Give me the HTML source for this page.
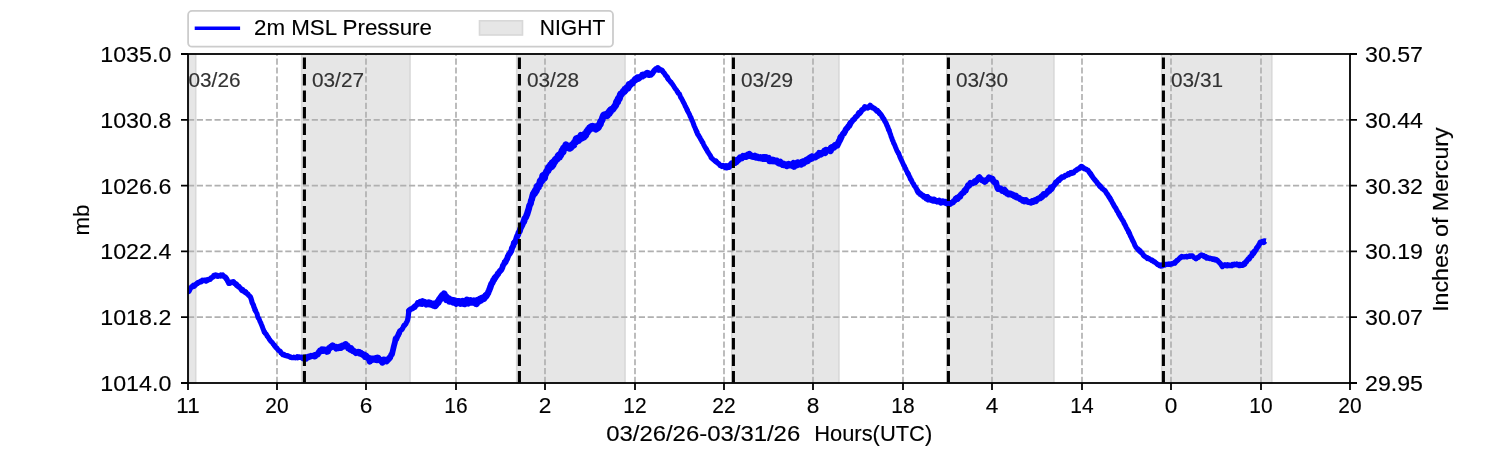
<!DOCTYPE html><html><head><meta charset="utf-8"><style>html,body{margin:0;padding:0;background:#fff;width:1500px;height:450px;overflow:hidden}svg{display:block;will-change:transform}text{font-family:"Liberation Sans", sans-serif;stroke-width:0.15px;stroke:#000}text.d{stroke:#333;fill:#333}</style></head><body>
<svg width="1500" height="450" viewBox="0 0 1500 450">
<rect width="1500" height="450" fill="#fff"/>
<rect x="188.80" y="54.00" width="6.90" height="329.00" fill="#e6e6e6" stroke="#d9d9d9" stroke-width="1.6"/>
<rect x="301.70" y="54.00" width="108.30" height="329.00" fill="#e6e6e6" stroke="#d9d9d9" stroke-width="1.6"/>
<rect x="516.70" y="54.00" width="108.30" height="329.00" fill="#e6e6e6" stroke="#d9d9d9" stroke-width="1.6"/>
<rect x="731.80" y="54.00" width="107.10" height="329.00" fill="#e6e6e6" stroke="#d9d9d9" stroke-width="1.6"/>
<rect x="946.80" y="54.00" width="107.10" height="329.00" fill="#e6e6e6" stroke="#d9d9d9" stroke-width="1.6"/>
<rect x="1161.70" y="54.00" width="110.10" height="329.00" fill="#e6e6e6" stroke="#d9d9d9" stroke-width="1.6"/>
<path d="M277.00 383.00V54.00" stroke="#b0b0b0" stroke-width="1.67" stroke-dasharray="6.17 2.67" fill="none"/>
<path d="M366.00 383.00V54.00" stroke="#b0b0b0" stroke-width="1.67" stroke-dasharray="6.17 2.67" fill="none"/>
<path d="M456.00 383.00V54.00" stroke="#b0b0b0" stroke-width="1.67" stroke-dasharray="6.17 2.67" fill="none"/>
<path d="M545.00 383.00V54.00" stroke="#b0b0b0" stroke-width="1.67" stroke-dasharray="6.17 2.67" fill="none"/>
<path d="M635.00 383.00V54.00" stroke="#b0b0b0" stroke-width="1.67" stroke-dasharray="6.17 2.67" fill="none"/>
<path d="M724.00 383.00V54.00" stroke="#b0b0b0" stroke-width="1.67" stroke-dasharray="6.17 2.67" fill="none"/>
<path d="M813.00 383.00V54.00" stroke="#b0b0b0" stroke-width="1.67" stroke-dasharray="6.17 2.67" fill="none"/>
<path d="M903.00 383.00V54.00" stroke="#b0b0b0" stroke-width="1.67" stroke-dasharray="6.17 2.67" fill="none"/>
<path d="M992.00 383.00V54.00" stroke="#b0b0b0" stroke-width="1.67" stroke-dasharray="6.17 2.67" fill="none"/>
<path d="M1082.00 383.00V54.00" stroke="#b0b0b0" stroke-width="1.67" stroke-dasharray="6.17 2.67" fill="none"/>
<path d="M1171.00 383.00V54.00" stroke="#b0b0b0" stroke-width="1.67" stroke-dasharray="6.17 2.67" fill="none"/>
<path d="M1261.00 383.00V54.00" stroke="#b0b0b0" stroke-width="1.67" stroke-dasharray="6.17 2.67" fill="none"/>
<path d="M188.00 317.20H1350.00" stroke="#b0b0b0" stroke-width="1.67" stroke-dasharray="6.17 2.67" fill="none"/>
<path d="M188.00 251.40H1350.00" stroke="#b0b0b0" stroke-width="1.67" stroke-dasharray="6.17 2.67" fill="none"/>
<path d="M188.00 185.60H1350.00" stroke="#b0b0b0" stroke-width="1.67" stroke-dasharray="6.17 2.67" fill="none"/>
<path d="M188.00 119.80H1350.00" stroke="#b0b0b0" stroke-width="1.67" stroke-dasharray="6.17 2.67" fill="none"/>
<defs><clipPath id="ax"><rect x="188.0" y="54.0" width="1162.0" height="329.0"/></clipPath></defs>
<g fill="none" stroke="#0000ff" stroke-linejoin="round" stroke-linecap="round" clip-path="url(#ax)">
<path d="M188.0 291.4 188.6 291.5 189.2 290.9 189.8 289.3 190.4 288.4 191.0 287.4 191.6 287.0 192.2 286.4 192.8 286.4 193.4 285.3 194.0 286.3 194.6 285.5 195.2 285.3 195.8 284.4 196.4 283.8 197.0 283.5 197.6 283.2" stroke-width="5.39"/>
<path d="M197.6 283.2 198.2 282.5 198.8 282.3 199.4 282.4 200.0 281.8 200.6 281.3 201.2 281.7 201.8 281.0 202.4 280.3 203.0 280.6 203.6 280.6 204.2 280.3 204.8 280.1 205.4 280.6 206.0 281.0 206.6 280.4 207.2 280.0" stroke-width="5.37"/>
<path d="M207.2 280.0 207.8 280.1 208.4 279.8 209.0 279.2 209.6 279.3 210.2 279.3 210.8 278.4 211.4 277.6 212.0 277.6 212.6 277.2 213.2 276.9 213.8 275.5 214.4 275.3 215.0 275.3 215.6 275.0 216.2 275.6 216.8 275.8" stroke-width="5.34"/>
<path d="M216.8 275.8 217.4 275.5 218.0 276.3 218.6 276.1 219.2 275.9 219.8 275.8 220.4 276.0 221.0 275.1 221.6 275.7 222.2 275.6 222.8 275.1 223.4 276.2 224.0 276.3 224.6 277.0 225.2 276.9 225.8 277.6 226.4 278.7" stroke-width="5.32"/>
<path d="M226.4 278.7 227.0 279.4 227.6 281.1 228.2 282.0 228.8 283.3 229.4 283.1 230.0 283.3 230.6 282.8 231.2 282.1 231.8 282.0 232.4 281.9 233.0 282.5 233.6 281.9 234.2 283.2 234.8 283.6 235.4 283.9 236.0 284.1" stroke-width="5.30"/>
<path d="M236.0 284.1 236.6 285.3 237.2 285.0 237.8 286.2 238.4 286.9 239.0 286.6 239.6 287.6 240.2 287.8 240.8 288.9 241.4 289.8 242.0 290.5 242.6 289.5 243.2 290.3 243.8 291.2 244.4 292.0 245.0 291.9 245.6 292.1" stroke-width="5.27"/>
<path d="M245.6 292.1 246.2 293.0 246.8 293.4 247.4 293.9 248.0 294.2 248.6 295.3 249.2 295.8 249.8 296.3 250.4 297.0 251.0 298.5 251.6 300.5 252.2 302.8 252.8 303.9 253.4 305.0 254.0 307.2 254.6 308.4 255.2 310.3" stroke-width="5.22"/>
<path d="M255.2 310.3 255.8 311.2 256.4 312.5 257.0 313.7 257.6 316.0 258.2 317.9 258.8 318.4 259.4 319.7 260.0 321.5 260.6 322.5 261.2 324.0 261.8 325.4 262.4 327.0 263.0 328.8 263.6 330.1 264.2 331.9 264.8 332.5" stroke-width="5.02"/>
<path d="M264.8 332.5 265.4 333.6 266.0 333.8 266.6 334.8 267.2 336.3 267.8 336.6 268.4 337.7 269.0 338.6 269.6 339.7 270.2 340.4 270.8 341.2 271.4 341.7 272.0 342.3 272.6 343.1 273.2 344.0 273.8 344.6 274.4 345.4" stroke-width="5.04"/>
<path d="M274.4 345.4 275.0 346.2 275.6 347.2 276.2 347.7 276.8 347.9 277.4 349.0 278.0 349.7 278.6 350.5 279.2 350.8 279.8 351.0 280.4 351.5 281.0 352.9 281.6 353.1 282.2 354.0 282.8 354.6 283.4 354.1 284.0 354.7" stroke-width="5.15"/>
<path d="M284.0 354.7 284.6 355.1 285.2 355.3 285.8 355.6 286.4 355.7 287.0 356.0 287.6 355.6 288.2 356.2 288.8 356.2 289.4 356.7 290.0 356.7 290.6 357.3 291.2 357.5 291.8 357.6 292.4 357.7 293.0 357.5 293.6 357.4" stroke-width="5.27"/>
<path d="M293.6 357.4 294.2 357.5 294.8 357.5 295.4 357.7 296.0 357.5 296.6 357.6 297.2 356.9 297.8 357.7 298.4 357.1 299.0 357.0 299.6 357.1 300.2 357.1 300.8 357.5 301.4 357.3 302.0 357.2 302.6 357.4 303.2 358.4" stroke-width="5.40"/>
<path d="M303.2 358.4 303.8 358.0 304.4 357.6 305.0 358.2 305.6 357.6 306.2 358.8 306.8 357.1 307.4 357.8 308.0 357.6 308.6 356.4 309.2 357.0 309.8 356.9 310.4 356.3 311.0 355.8 311.6 356.2 312.2 355.8 312.8 355.8" stroke-width="5.76"/>
<path d="M312.8 355.8 313.4 355.9 314.0 356.3 314.6 355.3 315.2 356.2 315.8 355.4 316.4 354.5 317.0 354.4 317.6 354.5 318.2 353.6 318.8 352.1 319.4 352.2 320.0 350.6 320.6 350.8 321.2 350.8 321.8 349.4 322.4 350.8" stroke-width="6.18"/>
<path d="M322.4 350.8 323.0 349.9 323.6 350.2 324.2 349.6 324.8 349.6 325.4 350.0 326.0 351.0 326.6 351.6 327.2 350.6 327.8 351.5 328.4 349.8 329.0 348.2 329.6 348.4 330.2 348.0 330.8 346.9 331.4 346.6 332.0 346.4" stroke-width="6.30"/>
<path d="M332.0 346.4 332.6 345.5 333.2 345.8 333.8 346.7 334.4 346.8 335.0 346.8 335.6 347.7 336.2 348.4 336.8 347.1 337.4 347.9 338.0 348.2 338.6 347.9 339.2 347.9 339.8 346.8 340.4 347.2 341.0 347.7 341.6 346.8" stroke-width="6.30"/>
<path d="M341.6 346.8 342.2 345.8 342.8 346.2 343.4 346.4 344.0 345.8 344.6 344.8 345.2 345.9 345.8 344.2 346.4 345.8 347.0 346.1 347.6 346.0 348.2 348.3 348.8 348.1 349.4 347.8 350.0 349.4 350.6 349.2 351.2 348.7" stroke-width="6.30"/>
<path d="M351.2 348.7 351.8 349.4 352.4 350.5 353.0 351.0 353.6 351.1 354.2 351.3 354.8 351.9 355.4 351.9 356.0 352.9 356.6 352.4 357.2 352.6 357.8 352.7 358.4 351.9 359.0 352.1 359.6 353.3 360.2 353.0 360.8 353.1" stroke-width="6.30"/>
<path d="M360.8 353.1 361.4 354.0 362.0 353.9 362.6 354.8 363.2 354.8 363.8 355.5 364.4 354.9 365.0 356.8 365.6 356.2 366.2 355.8 366.8 357.1 367.4 357.6 368.0 358.2 368.6 357.8 369.2 359.0 369.8 361.5 370.4 358.9" stroke-width="6.30"/>
<path d="M370.4 358.9 371.0 360.2 371.6 359.7 372.2 359.8 372.8 358.7 373.4 358.6 374.0 359.4 374.6 359.0 375.2 359.6 375.8 358.3 376.4 358.5 377.0 360.1 377.6 357.8 378.2 357.9 378.8 358.9 379.4 359.2 380.0 360.2" stroke-width="6.30"/>
<path d="M380.0 360.2 380.6 360.1 381.2 360.1 381.8 361.0 382.4 362.6 383.0 362.0 383.6 359.6 384.2 360.9 384.8 360.3 385.4 360.9 386.0 360.2 386.6 361.3 387.2 360.4 387.8 360.1 388.4 359.2 389.0 358.7 389.6 357.9" stroke-width="6.30"/>
<path d="M389.6 357.9 390.2 357.3 390.8 355.9 391.4 354.4 392.0 354.3 392.6 351.6 393.2 349.1 393.8 346.5 394.4 344.3 395.0 342.0 395.6 338.6 396.2 339.3 396.8 337.9 397.4 336.4 398.0 335.5 398.6 334.1 399.2 332.9" stroke-width="5.77"/>
<path d="M399.2 332.9 399.8 330.8 400.4 330.5 401.0 330.1 401.6 329.7 402.2 329.0 402.8 328.1 403.4 326.6 404.0 325.5 404.6 325.6 405.2 324.5 405.8 323.9 406.4 322.5 407.0 321.5 407.6 320.0 408.2 316.7 408.8 310.9" stroke-width="5.24"/>
<path d="M408.8 310.9 409.4 310.0 410.0 309.7 410.6 309.2 411.2 309.0 411.8 308.6 412.4 308.6 413.0 308.2 413.6 307.3 414.2 306.7 414.8 307.1 415.4 305.7 416.0 305.6 416.6 305.0 417.2 303.9 417.8 303.4 418.4 303.0" stroke-width="5.56"/>
<path d="M418.4 303.0 419.0 303.0 419.6 303.3 420.2 302.2 420.8 302.6 421.4 302.7 422.0 303.7 422.6 301.3 423.2 302.8 423.8 302.0 424.4 302.8 425.0 302.4 425.6 303.4 426.2 304.3 426.8 303.4 427.4 303.8 428.0 303.6" stroke-width="6.50"/>
<path d="M428.0 303.6 428.6 303.0 429.2 303.9 429.8 303.5 430.4 303.3 431.0 303.8 431.6 304.0 432.2 304.7 432.8 304.1 433.4 304.0 434.0 305.5 434.6 305.5 435.2 305.8 435.8 305.1 436.4 304.0 437.0 303.1 437.6 302.4" stroke-width="6.90"/>
<path d="M437.6 302.4 438.2 302.4 438.8 301.2 439.4 299.3 440.0 299.5 440.6 297.8 441.2 298.2 441.8 296.3 442.4 295.3 443.0 295.8 443.6 295.1 444.2 293.8 444.8 296.4 445.4 298.3 446.0 296.6 446.6 299.7 447.2 298.4" stroke-width="6.90"/>
<path d="M447.2 298.4 447.8 298.9 448.4 299.4 449.0 299.0 449.6 301.3 450.2 300.8 450.8 300.5 451.4 300.9 452.0 300.3 452.6 301.1 453.2 302.2 453.8 300.6 454.4 301.4 455.0 302.2 455.6 303.0 456.2 303.3 456.8 301.8" stroke-width="6.90"/>
<path d="M456.8 301.8 457.4 301.5 458.0 302.3 458.6 301.5 459.2 301.4 459.8 302.5 460.4 303.4 461.0 302.6 461.6 302.4 462.2 303.0 462.8 301.3 463.4 302.4 464.0 301.6 464.6 303.8 465.2 302.4 465.8 302.0 466.4 301.6" stroke-width="6.90"/>
<path d="M466.4 301.6 467.0 300.0 467.6 302.4 468.2 303.1 468.8 301.4 469.4 302.4 470.0 302.3 470.6 300.5 471.2 302.2 471.8 301.9 472.4 301.2 473.0 301.2 473.6 302.2 474.2 300.9 474.8 302.3 475.4 303.2 476.0 301.9" stroke-width="6.90"/>
<path d="M476.0 301.9 476.6 303.7 477.2 302.0 477.8 300.2 478.4 301.2 479.0 300.3 479.6 300.9 480.2 299.0 480.8 300.4 481.4 298.7 482.0 298.9 482.6 297.9 483.2 297.8 483.8 298.7 484.4 297.5 485.0 296.9 485.6 295.8" stroke-width="6.90"/>
<path d="M485.6 295.8 486.2 296.3 486.8 295.2 487.4 293.7 488.0 293.3 488.6 291.4 489.2 290.2 489.8 288.6 490.4 287.0 491.0 285.2 491.6 283.6 492.2 283.1 492.8 281.7 493.4 280.3 494.0 279.9 494.6 278.4 495.2 277.5" stroke-width="6.43"/>
<path d="M495.2 277.5 495.8 277.0 496.4 276.0 497.0 275.5 497.6 273.7 498.2 274.1 498.8 272.5 499.4 272.0 500.0 270.6 500.6 270.6 501.2 270.0 501.8 268.9 502.4 267.5 503.0 265.3 503.6 264.6 504.2 263.7 504.8 262.3" stroke-width="5.80"/>
<path d="M504.8 262.3 505.4 262.3 506.0 260.9 506.6 259.5 507.2 258.7 507.8 256.6 508.4 255.6 509.0 254.3 509.6 253.9 510.2 252.8 510.8 251.7 511.4 250.8 512.0 248.0 512.6 247.0 513.2 245.9 513.8 243.6 514.4 242.6" stroke-width="5.99"/>
<path d="M514.4 242.6 515.0 242.0 515.6 240.8 516.2 239.5 516.8 237.3 517.4 235.8 518.0 235.0 518.6 232.8 519.2 231.9 519.8 231.1 520.4 228.7 521.0 227.4 521.6 226.3 522.2 225.2 522.8 223.6 523.4 222.2 524.0 221.3" stroke-width="6.18"/>
<path d="M524.0 221.3 524.6 218.7 525.2 218.0 525.8 217.4 526.4 215.8 527.0 214.4 527.6 212.5 528.2 210.6 528.8 208.6 529.4 205.9 530.0 204.6 530.6 203.6 531.2 200.5 531.8 199.3 532.4 196.6 533.0 194.5 533.6 194.2" stroke-width="6.53"/>
<path d="M533.6 194.2 534.2 192.6 534.8 192.8 535.4 190.4 536.0 191.2 536.6 189.7 537.2 186.5 537.8 187.6 538.4 187.1 539.0 184.5 539.6 184.6 540.2 181.4 540.8 182.0 541.4 179.7 542.0 180.5 542.6 177.5 543.2 175.8" stroke-width="7.07"/>
<path d="M543.2 175.8 543.8 177.3 544.4 177.9 545.0 174.3 545.6 174.1 546.2 172.5 546.8 171.3 547.4 170.7 548.0 170.5 548.6 167.6 549.2 168.3 549.8 167.3 550.4 165.2 551.0 166.7 551.6 166.5 552.2 163.2 552.8 164.6" stroke-width="7.17"/>
<path d="M552.8 164.6 553.4 162.4 554.0 161.5 554.6 161.8 555.2 160.0 555.8 159.2 556.4 159.5 557.0 159.0 557.6 158.1 558.2 156.1 558.8 155.2 559.4 157.1 560.0 155.2 560.6 155.1 561.2 153.1 561.8 152.5 562.4 150.7" stroke-width="7.14"/>
<path d="M562.4 150.7 563.0 151.8 563.6 148.2 564.2 148.0 564.8 147.0 565.4 146.9 566.0 144.8 566.6 146.1 567.2 146.6 567.8 147.4 568.4 147.6 569.0 147.4 569.6 148.2 570.2 147.9 570.8 147.6 571.4 146.2 572.0 145.1" stroke-width="7.10"/>
<path d="M572.0 145.1 572.6 144.6 573.2 144.2 573.8 145.0 574.4 142.3 575.0 142.2 575.6 142.1 576.2 138.9 576.8 138.5 577.4 138.3 578.0 138.6 578.6 140.3 579.2 138.5 579.8 138.8 580.4 137.3 581.0 135.5 581.6 135.7" stroke-width="7.07"/>
<path d="M581.6 135.7 582.2 137.8 582.8 136.9 583.4 135.6 584.0 137.0 584.6 134.3 585.2 135.6 585.8 134.9 586.4 132.6 587.0 131.3 587.6 131.9 588.2 129.7 588.8 130.3 589.4 128.2 590.0 129.0 590.6 127.8 591.2 127.0" stroke-width="7.04"/>
<path d="M591.2 127.0 591.8 126.9 592.4 127.9 593.0 126.5 593.6 127.7 594.2 127.6 594.8 128.4 595.4 126.8 596.0 129.1 596.6 127.4 597.2 126.7 597.8 127.9 598.4 127.4 599.0 125.6 599.6 124.2 600.2 124.4 600.8 121.8" stroke-width="7.00"/>
<path d="M600.8 121.8 601.4 120.6 602.0 120.3 602.6 117.8 603.2 116.3 603.8 115.0 604.4 114.8 605.0 115.5 605.6 115.5 606.2 114.2 606.8 114.2 607.4 115.6 608.0 113.6 608.6 112.5 609.2 113.5 609.8 111.5 610.4 110.3" stroke-width="6.97"/>
<path d="M610.4 110.3 611.0 111.0 611.6 109.2 612.2 109.0 612.8 109.2 613.4 108.5 614.0 107.3 614.6 106.7 615.2 105.4 615.8 105.3 616.4 102.5 617.0 101.2 617.6 102.0 618.2 98.9 618.8 99.4 619.4 98.4 620.0 96.1" stroke-width="6.93"/>
<path d="M620.0 96.1 620.6 94.1 621.2 94.3 621.8 93.7 622.4 92.9 623.0 91.6 623.6 92.0 624.2 91.6 624.8 89.3 625.4 90.4 626.0 88.8 626.6 87.8 627.2 87.4 627.8 88.4 628.4 87.2 629.0 84.6 629.6 85.3" stroke-width="6.86"/>
<path d="M629.6 85.3 630.2 84.6 630.8 84.2 631.4 83.4 632.0 82.3 632.6 83.3 633.2 81.6 633.8 81.2 634.4 80.3 635.0 79.5 635.6 80.0 636.2 79.2 636.8 78.1 637.4 77.5 638.0 77.5 638.6 78.5 639.2 77.6" stroke-width="6.52"/>
<path d="M639.2 77.6 639.8 77.5 640.4 76.8 641.0 76.6 641.6 76.5 642.2 74.8 642.8 76.3 643.4 74.6 644.0 74.5 644.6 75.2 645.2 74.4 645.8 74.0 646.4 73.4 647.0 72.9 647.6 74.0 648.2 74.5 648.8 73.6" stroke-width="6.14"/>
<path d="M648.8 73.6 649.4 75.0 650.0 73.8 650.6 74.4 651.2 74.7 651.8 73.8 652.4 73.5 653.0 72.2 653.6 71.6 654.2 70.5 654.8 70.2 655.4 69.6 656.0 68.9 656.6 69.1 657.2 68.2 657.8 67.9 658.4 69.9" stroke-width="5.73"/>
<path d="M658.4 69.9 659.0 68.9 659.6 69.0 660.2 70.0 660.8 70.3 661.4 69.9 662.0 70.1 662.6 70.8 663.2 72.2 663.8 72.6 664.4 73.4 665.0 74.4 665.6 75.5 666.2 75.7 666.8 76.8 667.4 77.2 668.0 78.8" stroke-width="5.13"/>
<path d="M668.0 78.8 668.6 79.7 669.2 80.3 669.8 80.9 670.4 81.9 671.0 82.0 671.6 83.5 672.2 83.8 672.8 84.7 673.4 85.7 674.0 86.6 674.6 87.7 675.2 88.6 675.8 89.3 676.4 89.9 677.0 91.2 677.6 91.8" stroke-width="4.97"/>
<path d="M677.6 91.8 678.2 93.2 678.8 93.5 679.4 93.9 680.0 95.4 680.6 97.3 681.2 98.0 681.8 98.9 682.4 100.3 683.0 101.4 683.6 102.7 684.2 103.6 684.8 105.0 685.4 106.4 686.0 107.4 686.6 108.5 687.2 109.9" stroke-width="5.00"/>
<path d="M687.2 109.9 687.8 111.3 688.4 112.5 689.0 113.5 689.6 114.7 690.2 116.5 690.8 117.2 691.4 118.9 692.0 120.5 692.6 121.5 693.2 123.2 693.8 124.9 694.4 126.5 695.0 127.7 695.6 129.3 696.2 130.7 696.8 131.8" stroke-width="5.02"/>
<path d="M696.8 131.8 697.4 133.9 698.0 134.8 698.6 135.3 699.2 136.7 699.8 137.3 700.4 138.6 701.0 139.8 701.6 140.5 702.2 142.3 702.8 142.5 703.4 144.1 704.0 145.2 704.6 146.5 705.2 147.5 705.8 148.3 706.4 149.4" stroke-width="5.05"/>
<path d="M706.4 149.4 707.0 150.3 707.6 151.6 708.2 152.2 708.8 153.5 709.4 154.3 710.0 155.3 710.6 156.1 711.2 157.8 711.8 157.9 712.4 158.9 713.0 159.4 713.6 159.9 714.2 160.4 714.8 160.9 715.4 161.5 716.0 161.2" stroke-width="5.08"/>
<path d="M716.0 161.2 716.6 162.2 717.2 162.4 717.8 163.3 718.4 163.3 719.0 163.9 719.6 164.7 720.2 165.6 720.8 165.8 721.4 165.9 722.0 166.4 722.6 165.6 723.2 165.4 723.8 165.9 724.4 166.0 725.0 166.7 725.6 167.3" stroke-width="5.23"/>
<path d="M725.6 167.3 726.2 166.0 726.8 167.5 727.4 167.2 728.0 167.1 728.6 166.3 729.2 166.8 729.8 165.2 730.4 164.7 731.0 164.6 731.6 163.4 732.2 164.1 732.8 163.4 733.4 163.3 734.0 163.0 734.6 161.7 735.2 162.7" stroke-width="5.93"/>
<path d="M735.2 162.7 735.8 161.2 736.4 162.0 737.0 160.1 737.6 160.7 738.2 159.8 738.8 159.8 739.4 158.7 740.0 157.5 740.6 157.6 741.2 158.3 741.8 158.3 742.4 156.8 743.0 156.1 743.6 156.5 744.2 156.8 744.8 156.2" stroke-width="6.31"/>
<path d="M744.8 156.2 745.4 155.9 746.0 156.8 746.6 156.5 747.2 156.3 747.8 154.8 748.4 155.4 749.0 155.0 749.6 154.2 750.2 155.7 750.8 155.4 751.4 155.4 752.0 156.5 752.6 156.3 753.2 156.5 753.8 156.9 754.4 156.8" stroke-width="6.34"/>
<path d="M754.4 156.8 755.0 155.9 755.6 156.5 756.2 157.4 756.8 156.5 757.4 157.2 758.0 157.6 758.6 158.1 759.2 158.0 759.8 157.9 760.4 157.3 761.0 158.2 761.6 157.9 762.2 157.6 762.8 158.7 763.4 158.2 764.0 157.4" stroke-width="6.37"/>
<path d="M764.0 157.4 764.6 158.6 765.2 157.9 765.8 158.6 766.4 157.3 767.0 158.7 767.6 158.3 768.2 158.5 768.8 158.2 769.4 160.9 770.0 159.8 770.6 160.0 771.2 160.9 771.8 160.3 772.4 160.9 773.0 159.8 773.6 161.0" stroke-width="6.40"/>
<path d="M773.6 161.0 774.2 160.7 774.8 161.3 775.4 161.3 776.0 160.6 776.6 160.7 777.2 161.4 777.8 162.8 778.4 163.0 779.0 163.3 779.6 161.9 780.2 161.8 780.8 163.1 781.4 163.7 782.0 164.1 782.6 164.9 783.2 164.9" stroke-width="6.42"/>
<path d="M783.2 164.9 783.8 164.0 784.4 164.4 785.0 164.9 785.6 164.7 786.2 164.7 786.8 166.0 787.4 164.5 788.0 164.6 788.6 164.1 789.2 164.6 789.8 165.2 790.4 165.3 791.0 165.0 791.6 165.5 792.2 165.2 792.8 164.0" stroke-width="6.45"/>
<path d="M792.8 164.0 793.4 163.3 794.0 166.6 794.6 165.7 795.2 164.7 795.8 163.7 796.4 163.9 797.0 165.1 797.6 162.5 798.2 163.6 798.8 164.2 799.4 163.6 800.0 163.6 800.6 163.0 801.2 164.5 801.8 162.3 802.4 161.9" stroke-width="6.48"/>
<path d="M802.4 161.9 803.0 162.7 803.6 163.1 804.2 161.7 804.8 162.3 805.4 160.8 806.0 160.2 806.6 161.3 807.2 161.0 807.8 160.8 808.4 159.1 809.0 158.5 809.6 158.0 810.2 158.6 810.8 158.9 811.4 158.5 812.0 156.8" stroke-width="6.51"/>
<path d="M812.0 156.8 812.6 157.7 813.2 157.6 813.8 157.1 814.4 156.8 815.0 156.6 815.6 157.0 816.2 156.2 816.8 155.9 817.4 155.1 818.0 155.5 818.6 154.6 819.2 153.2 819.8 154.5 820.4 153.7 821.0 154.2 821.6 153.2" stroke-width="6.53"/>
<path d="M821.6 153.2 822.2 153.1 822.8 152.9 823.4 152.8 824.0 152.3 824.6 150.8 825.2 152.8 825.8 150.0 826.4 150.3 827.0 150.6 827.6 150.3 828.2 150.3 828.8 150.1 829.4 150.4 830.0 149.8 830.6 150.9 831.2 147.9" stroke-width="6.56"/>
<path d="M831.2 147.9 831.8 148.2 832.4 147.4 833.0 146.9 833.6 146.8 834.2 147.2 834.8 145.4 835.4 145.0 836.0 145.4 836.6 144.7 837.2 145.3 837.8 144.1 838.4 142.9 839.0 141.4 839.6 140.5 840.2 139.3 840.8 137.3" stroke-width="6.58"/>
<path d="M840.8 137.3 841.4 137.1 842.0 135.8 842.6 134.6 843.2 133.6 843.8 133.6 844.4 132.3 845.0 131.6 845.6 129.9 846.2 129.0 846.8 128.4 847.4 127.9 848.0 126.9 848.6 126.0 849.2 125.8 849.8 124.6 850.4 123.2" stroke-width="6.10"/>
<path d="M850.4 123.2 851.0 122.6 851.6 121.6 852.2 121.4 852.8 120.1 853.4 119.8 854.0 119.5 854.6 118.6 855.2 117.6 855.8 117.0 856.4 116.5 857.0 115.9 857.6 115.5 858.2 114.3 858.8 113.0 859.4 113.6 860.0 112.6" stroke-width="5.65"/>
<path d="M860.0 112.6 860.6 112.1 861.2 111.3 861.8 110.1 862.4 109.8 863.0 109.2 863.6 109.1 864.2 108.3 864.8 106.8 865.4 107.6 866.0 107.7 866.6 107.7 867.2 107.3 867.8 107.8 868.4 107.2 869.0 107.1 869.6 106.6" stroke-width="5.55"/>
<path d="M869.6 106.6 870.2 105.4 870.8 106.8 871.4 107.0 872.0 107.0 872.6 107.7 873.2 108.0 873.8 108.2 874.4 108.7 875.0 109.0 875.6 109.6 876.2 110.0 876.8 111.0 877.4 110.6 878.0 111.7 878.6 111.9 879.2 112.8" stroke-width="5.46"/>
<path d="M879.2 112.8 879.8 113.8 880.4 114.1 881.0 114.6 881.6 115.5 882.2 117.0 882.8 117.3 883.4 118.9 884.0 119.2 884.6 120.6 885.2 121.9 885.8 122.6 886.4 124.0 887.0 125.6 887.6 126.6 888.2 128.5 888.8 129.9" stroke-width="5.22"/>
<path d="M888.8 129.9 889.4 131.2 890.0 133.2 890.6 134.6 891.2 136.9 891.8 138.0 892.4 140.2 893.0 141.0 893.6 143.1 894.2 144.0 894.8 145.3 895.4 146.9 896.0 148.3 896.6 149.8 897.2 151.3 897.8 152.1 898.4 153.2" stroke-width="4.98"/>
<path d="M898.4 153.2 899.0 154.1 899.6 156.1 900.2 157.7 900.8 158.9 901.4 160.2 902.0 161.4 902.6 162.7 903.2 164.0 903.8 165.4 904.4 166.0 905.0 167.9 905.6 168.5 906.2 170.2 906.8 171.3 907.4 172.6 908.0 173.6" stroke-width="5.03"/>
<path d="M908.0 173.6 908.6 174.7 909.2 176.1 909.8 177.0 910.4 179.1 911.0 179.5 911.6 180.7 912.2 182.1 912.8 183.0 913.4 183.8 914.0 185.3 914.6 186.3 915.2 186.6 915.8 187.9 916.4 188.5 917.0 189.9 917.6 191.0" stroke-width="5.12"/>
<path d="M917.6 191.0 918.2 192.1 918.8 192.8 919.4 192.8 920.0 194.0 920.6 193.8 921.2 194.5 921.8 195.1 922.4 195.2 923.0 195.5 923.6 196.7 924.2 196.4 924.8 197.0 925.4 197.4 926.0 198.5 926.6 197.9 927.2 197.0" stroke-width="5.74"/>
<path d="M927.2 197.0 927.8 198.8 928.4 199.6 929.0 199.6 929.6 198.7 930.2 199.3 930.8 199.8 931.4 200.1 932.0 199.9 932.6 199.6 933.2 200.7 933.8 200.6 934.4 199.7 935.0 200.5 935.6 201.0 936.2 200.8 936.8 201.2" stroke-width="6.00"/>
<path d="M936.8 201.2 937.4 201.5 938.0 201.6 938.6 201.4 939.2 200.8 939.8 201.9 940.4 202.3 941.0 202.7 941.6 201.6 942.2 201.4 942.8 202.2 943.4 202.3 944.0 201.8 944.6 202.1 945.2 201.8 945.8 203.0 946.4 202.8" stroke-width="6.00"/>
<path d="M946.4 202.8 947.0 203.4 947.6 203.8 948.2 204.1 948.8 203.7 949.4 204.1 950.0 204.1 950.6 203.4 951.2 202.8 951.8 202.8 952.4 202.5 953.0 202.2 953.6 201.1 954.2 201.0 954.8 200.4 955.4 199.4 956.0 198.6" stroke-width="6.00"/>
<path d="M956.0 198.6 956.6 198.7 957.2 197.7 957.8 198.8 958.4 197.2 959.0 196.7 959.6 196.1 960.2 196.7 960.8 194.6 961.4 194.3 962.0 193.4 962.6 193.1 963.2 192.6 963.8 192.6 964.4 190.6 965.0 190.4 965.6 190.4" stroke-width="6.00"/>
<path d="M965.6 190.4 966.2 188.6 966.8 188.0 967.4 186.9 968.0 185.3 968.6 185.9 969.2 185.8 969.8 184.1 970.4 182.9 971.0 183.5 971.6 183.3 972.2 183.5 972.8 183.3 973.4 182.5 974.0 182.6 974.6 181.3 975.2 182.1" stroke-width="6.00"/>
<path d="M975.2 182.1 975.8 180.9 976.4 180.8 977.0 180.4 977.6 179.0 978.2 178.4 978.8 177.6 979.4 177.2 980.0 178.6 980.6 179.0 981.2 179.0 981.8 180.2 982.4 180.2 983.0 180.9 983.6 180.5 984.2 180.5 984.8 181.6" stroke-width="6.00"/>
<path d="M984.8 181.6 985.4 181.3 986.0 180.7 986.6 179.9 987.2 179.5 987.8 179.1 988.4 178.4 989.0 177.3 989.6 178.7 990.2 177.9 990.8 178.8 991.4 178.9 992.0 179.4 992.6 178.9 993.2 181.1 993.8 181.5 994.4 182.0" stroke-width="6.00"/>
<path d="M994.4 182.0 995.0 182.9 995.6 182.5 996.2 182.7 996.8 185.9 997.4 187.9 998.0 188.9 998.6 188.2 999.2 188.7 999.8 189.2 1000.4 188.3 1001.0 189.1 1001.6 189.4 1002.2 190.8 1002.8 189.8 1003.4 191.0 1004.0 190.5" stroke-width="6.00"/>
<path d="M1004.0 190.5 1004.6 189.8 1005.2 192.4 1005.8 191.2 1006.4 192.5 1007.0 193.7 1007.6 193.0 1008.2 193.1 1008.8 194.5 1009.4 194.2 1010.0 193.6 1010.6 193.6 1011.2 194.0 1011.8 194.9 1012.4 194.4 1013.0 194.9 1013.6 195.7" stroke-width="6.00"/>
<path d="M1013.6 195.7 1014.2 195.9 1014.8 196.5 1015.4 196.8 1016.0 195.6 1016.6 197.6 1017.2 197.5 1017.8 197.8 1018.4 197.6 1019.0 197.8 1019.6 198.5 1020.2 199.3 1020.8 199.1 1021.4 199.4 1022.0 199.8 1022.6 200.6 1023.2 200.2" stroke-width="6.00"/>
<path d="M1023.2 200.2 1023.8 200.5 1024.4 201.2 1025.0 200.4 1025.6 201.0 1026.2 200.3 1026.8 201.4 1027.4 201.5 1028.0 202.0 1028.6 202.0 1029.2 201.9 1029.8 202.2 1030.4 202.0 1031.0 202.6 1031.6 202.4 1032.2 201.2 1032.8 201.9" stroke-width="6.00"/>
<path d="M1032.8 201.9 1033.4 201.0 1034.0 201.4 1034.6 200.8 1035.2 200.1 1035.8 201.2 1036.4 200.5 1037.0 199.4 1037.6 198.8 1038.2 199.0 1038.8 198.3 1039.4 198.1 1040.0 198.3 1040.6 198.2 1041.2 196.6 1041.8 197.1 1042.4 196.4" stroke-width="6.00"/>
<path d="M1042.4 196.4 1043.0 195.2 1043.6 194.0 1044.2 194.7 1044.8 194.1 1045.4 194.6 1046.0 193.7 1046.6 193.0 1047.2 193.0 1047.8 191.0 1048.4 191.2 1049.0 190.3 1049.6 190.9 1050.2 189.8 1050.8 187.6 1051.4 189.2 1052.0 187.5" stroke-width="5.98"/>
<path d="M1052.0 187.5 1052.6 187.3 1053.2 186.0 1053.8 185.6 1054.4 185.0 1055.0 183.9 1055.6 182.5 1056.2 183.0 1056.8 182.0 1057.4 181.1 1058.0 180.6 1058.6 179.6 1059.2 180.1 1059.8 179.0 1060.4 178.5 1061.0 178.2 1061.6 177.4" stroke-width="5.60"/>
<path d="M1061.6 177.4 1062.2 177.0 1062.8 177.2 1063.4 176.9 1064.0 177.0 1064.6 176.3 1065.2 175.4 1065.8 175.5 1066.4 175.4 1067.0 175.2 1067.6 174.7 1068.2 173.9 1068.8 174.5 1069.4 173.7 1070.0 173.8 1070.6 172.8 1071.2 173.3" stroke-width="5.37"/>
<path d="M1071.2 173.3 1071.8 172.6 1072.4 173.1 1073.0 173.1 1073.6 172.7 1074.2 171.6 1074.8 171.2 1075.4 170.6 1076.0 170.6 1076.6 170.0 1077.2 169.4 1077.8 169.1 1078.4 168.9 1079.0 168.6 1079.6 168.5 1080.2 167.5 1080.8 167.2" stroke-width="5.33"/>
<path d="M1080.8 167.2 1081.4 166.4 1082.0 166.7 1082.6 167.3 1083.2 167.5 1083.8 168.2 1084.4 168.8 1085.0 168.7 1085.6 169.1 1086.2 169.3 1086.8 169.7 1087.4 169.9 1088.0 170.4 1088.6 171.1 1089.2 172.1 1089.8 172.9 1090.4 173.6" stroke-width="5.29"/>
<path d="M1090.4 173.6 1091.0 174.4 1091.6 175.8 1092.2 176.1 1092.8 177.3 1093.4 178.1 1094.0 178.8 1094.6 179.6 1095.2 180.2 1095.8 181.1 1096.4 181.7 1097.0 182.3 1097.6 183.6 1098.2 183.9 1098.8 184.9 1099.4 185.3 1100.0 186.2" stroke-width="5.25"/>
<path d="M1100.0 186.2 1100.6 186.4 1101.2 187.2 1101.8 188.4 1102.4 188.5 1103.0 189.2 1103.6 189.5 1104.2 190.4 1104.8 190.4 1105.4 191.3 1106.0 192.2 1106.6 193.4 1107.2 193.9 1107.8 194.9 1108.4 195.9 1109.0 196.9 1109.6 197.6" stroke-width="5.21"/>
<path d="M1109.6 197.6 1110.2 198.6 1110.8 200.0 1111.4 200.5 1112.0 201.8 1112.6 203.0 1113.2 203.9 1113.8 205.3 1114.4 206.2 1115.0 207.3 1115.6 207.9 1116.2 209.0 1116.8 210.4 1117.4 211.4 1118.0 212.1 1118.6 213.4 1119.2 214.4" stroke-width="5.17"/>
<path d="M1119.2 214.4 1119.8 215.5 1120.4 216.9 1121.0 217.4 1121.6 218.8 1122.2 219.8 1122.8 220.6 1123.4 221.3 1124.0 223.1 1124.6 224.1 1125.2 225.2 1125.8 226.4 1126.4 227.8 1127.0 228.7 1127.6 230.1 1128.2 230.6 1128.8 232.3" stroke-width="5.13"/>
<path d="M1128.8 232.3 1129.4 233.2 1130.0 234.7 1130.6 236.3 1131.2 237.3 1131.8 238.6 1132.4 240.1 1133.0 241.1 1133.6 242.2 1134.2 243.5 1134.8 245.3 1135.4 246.2 1136.0 247.4 1136.6 247.9 1137.2 248.8 1137.8 248.8 1138.4 249.8" stroke-width="5.10"/>
<path d="M1138.4 249.8 1139.0 249.8 1139.6 251.3 1140.2 250.7 1140.8 252.3 1141.4 252.8 1142.0 252.8 1142.6 253.9 1143.2 255.1 1143.8 255.8 1144.4 255.8 1145.0 256.8 1145.6 257.0 1146.2 257.2 1146.8 257.6 1147.4 258.5 1148.0 258.2" stroke-width="5.10"/>
<path d="M1148.0 258.2 1148.6 258.4 1149.2 258.6 1149.8 259.3 1150.4 259.5 1151.0 259.5 1151.6 260.6 1152.2 260.1 1152.8 260.7 1153.4 261.2 1154.0 262.0 1154.6 261.7 1155.2 262.2 1155.8 263.0 1156.4 263.2 1157.0 263.9 1157.6 264.3" stroke-width="5.10"/>
<path d="M1157.6 264.3 1158.2 264.5 1158.8 265.0 1159.4 265.6 1160.0 265.9 1160.6 266.1 1161.2 264.8 1161.8 265.1 1162.4 265.8 1163.0 265.4 1163.6 264.8 1164.2 265.1 1164.8 265.2 1165.4 264.4 1166.0 264.6 1166.6 264.2 1167.2 264.2" stroke-width="5.10"/>
<path d="M1167.2 264.2 1167.8 264.2 1168.4 264.4 1169.0 263.8 1169.6 264.1 1170.2 264.4 1170.8 263.8 1171.4 263.6 1172.0 264.1 1172.6 263.7 1173.2 263.3 1173.8 263.1 1174.4 262.5 1175.0 263.3 1175.6 262.0 1176.2 261.7 1176.8 260.7" stroke-width="5.10"/>
<path d="M1176.8 260.7 1177.4 260.4 1178.0 260.3 1178.6 259.3 1179.2 258.8 1179.8 257.9 1180.4 257.9 1181.0 256.9 1181.6 256.4 1182.2 257.0 1182.8 256.6 1183.4 256.9 1184.0 256.8 1184.6 256.9 1185.2 256.8 1185.8 256.5 1186.4 256.4" stroke-width="5.10"/>
<path d="M1186.4 256.4 1187.0 257.0 1187.6 256.6 1188.2 256.6 1188.8 256.2 1189.4 255.7 1190.0 255.7 1190.6 256.4 1191.2 255.7 1191.8 255.8 1192.4 255.8 1193.0 256.6 1193.6 257.0 1194.2 257.6 1194.8 258.0 1195.4 258.2 1196.0 258.6" stroke-width="5.10"/>
<path d="M1196.0 258.6 1196.6 258.3 1197.2 258.0 1197.8 257.4 1198.4 257.5 1199.0 256.6 1199.6 256.1 1200.2 255.5 1200.8 255.5 1201.4 254.9 1202.0 255.0 1202.6 255.5 1203.2 256.2 1203.8 255.8 1204.4 256.9 1205.0 256.8 1205.6 256.7" stroke-width="5.11"/>
<path d="M1205.6 256.7 1206.2 257.3 1206.8 258.1 1207.4 257.5 1208.0 257.5 1208.6 258.2 1209.2 258.5 1209.8 258.6 1210.4 258.2 1211.0 258.5 1211.6 258.6 1212.2 258.9 1212.8 259.4 1213.4 258.9 1214.0 259.6 1214.6 259.2 1215.2 259.7" stroke-width="5.17"/>
<path d="M1215.2 259.7 1215.8 259.4 1216.4 259.7 1217.0 260.3 1217.6 260.4 1218.2 261.5 1218.8 261.7 1219.4 262.6 1220.0 263.2 1220.6 263.8 1221.2 264.7 1221.8 265.8 1222.4 266.6 1223.0 265.2 1223.6 265.6 1224.2 265.4 1224.8 265.1" stroke-width="5.24"/>
<path d="M1224.8 265.1 1225.4 265.5 1226.0 265.1 1226.6 265.3 1227.2 265.7 1227.8 264.7 1228.4 265.6 1229.0 265.7 1229.6 265.2 1230.2 265.7 1230.8 265.5 1231.4 265.1 1232.0 265.6 1232.6 264.6 1233.2 265.1 1233.8 264.7 1234.4 264.4" stroke-width="5.30"/>
<path d="M1234.4 264.4 1235.0 264.7 1235.6 264.4 1236.2 264.7 1236.8 264.1 1237.4 264.6 1238.0 264.6 1238.6 265.3 1239.2 264.6 1239.8 265.5 1240.4 264.6 1241.0 265.3 1241.6 265.2 1242.2 265.4 1242.8 265.2 1243.4 264.3 1244.0 263.7" stroke-width="5.37"/>
<path d="M1244.0 263.7 1244.6 264.2 1245.2 263.0 1245.8 261.9 1246.4 261.9 1247.0 260.6 1247.6 259.9 1248.2 259.0 1248.8 259.2 1249.4 258.8 1250.0 256.9 1250.6 256.5 1251.2 256.0 1251.8 255.8 1252.4 253.3 1253.0 253.6 1253.6 253.1" stroke-width="5.44"/>
<path d="M1253.6 253.1 1254.2 251.5 1254.8 251.4 1255.4 250.5 1256.0 249.8 1256.6 248.2 1257.2 247.7 1257.8 246.5 1258.4 246.0 1259.0 244.8 1259.6 243.7 1260.2 242.4 1260.8 242.7 1261.4 242.1 1262.0 242.1 1262.6 241.5 1263.2 241.4" stroke-width="5.50"/>
<path d="M1263.2 241.4 1263.8 242.3 1264.4 241.7 1265.0 241.0 1265.5 241.2" stroke-width="5.55" stroke-linecap="butt"/>
</g>
<path d="M304.40 382.50V54.00" stroke="#000" stroke-width="3.1" stroke-dasharray="11.5 5" fill="none"/>
<path d="M519.40 382.50V54.00" stroke="#000" stroke-width="3.1" stroke-dasharray="11.5 5" fill="none"/>
<path d="M733.40 382.50V54.00" stroke="#000" stroke-width="3.1" stroke-dasharray="11.5 5" fill="none"/>
<path d="M948.40 382.50V54.00" stroke="#000" stroke-width="3.1" stroke-dasharray="11.5 5" fill="none"/>
<path d="M1163.40 382.50V54.00" stroke="#000" stroke-width="3.1" stroke-dasharray="11.5 5" fill="none"/>
<rect x="188.00" y="54.00" width="1162.00" height="329.00" fill="none" stroke="#000" stroke-width="1.8"/>
<path d="M181.00 383.00H188.00 M1350.00 383.00H1357.00" stroke="#000" stroke-width="1.8"/>
<path d="M181.00 317.20H188.00 M1350.00 317.20H1357.00" stroke="#000" stroke-width="1.8"/>
<path d="M181.00 251.40H188.00 M1350.00 251.40H1357.00" stroke="#000" stroke-width="1.8"/>
<path d="M181.00 185.60H188.00 M1350.00 185.60H1357.00" stroke="#000" stroke-width="1.8"/>
<path d="M181.00 119.80H188.00 M1350.00 119.80H1357.00" stroke="#000" stroke-width="1.8"/>
<path d="M181.00 54.00H188.00 M1350.00 54.00H1357.00" stroke="#000" stroke-width="1.8"/>
<path d="M188.00 383.00V390.00" stroke="#000" stroke-width="1.8"/>
<path d="M277.00 383.00V390.00" stroke="#000" stroke-width="1.8"/>
<path d="M366.00 383.00V390.00" stroke="#000" stroke-width="1.8"/>
<path d="M456.00 383.00V390.00" stroke="#000" stroke-width="1.8"/>
<path d="M545.00 383.00V390.00" stroke="#000" stroke-width="1.8"/>
<path d="M635.00 383.00V390.00" stroke="#000" stroke-width="1.8"/>
<path d="M724.00 383.00V390.00" stroke="#000" stroke-width="1.8"/>
<path d="M813.00 383.00V390.00" stroke="#000" stroke-width="1.8"/>
<path d="M903.00 383.00V390.00" stroke="#000" stroke-width="1.8"/>
<path d="M992.00 383.00V390.00" stroke="#000" stroke-width="1.8"/>
<path d="M1082.00 383.00V390.00" stroke="#000" stroke-width="1.8"/>
<path d="M1171.00 383.00V390.00" stroke="#000" stroke-width="1.8"/>
<path d="M1261.00 383.00V390.00" stroke="#000" stroke-width="1.8"/>
<path d="M1350.00 383.00V390.00" stroke="#000" stroke-width="1.8"/>
<text x="171.3" y="391.00" font-size="22.8" text-anchor="end" textLength="71" lengthAdjust="spacingAndGlyphs">1014.0</text>
<text x="171.3" y="325.20" font-size="22.8" text-anchor="end" textLength="71" lengthAdjust="spacingAndGlyphs">1018.2</text>
<text x="171.3" y="259.40" font-size="22.8" text-anchor="end" textLength="71" lengthAdjust="spacingAndGlyphs">1022.4</text>
<text x="171.3" y="193.60" font-size="22.8" text-anchor="end" textLength="71" lengthAdjust="spacingAndGlyphs">1026.6</text>
<text x="171.3" y="127.80" font-size="22.8" text-anchor="end" textLength="71" lengthAdjust="spacingAndGlyphs">1030.8</text>
<text x="171.3" y="62.00" font-size="22.8" text-anchor="end" textLength="71" lengthAdjust="spacingAndGlyphs">1035.0</text>
<text x="1365" y="391.00" font-size="22.8" textLength="58" lengthAdjust="spacingAndGlyphs">29.95</text>
<text x="1365" y="325.20" font-size="22.8" textLength="58" lengthAdjust="spacingAndGlyphs">30.07</text>
<text x="1365" y="259.40" font-size="22.8" textLength="58" lengthAdjust="spacingAndGlyphs">30.19</text>
<text x="1365" y="193.60" font-size="22.8" textLength="58" lengthAdjust="spacingAndGlyphs">30.32</text>
<text x="1365" y="127.80" font-size="22.8" textLength="58" lengthAdjust="spacingAndGlyphs">30.44</text>
<text x="1365" y="62.00" font-size="22.8" textLength="58" lengthAdjust="spacingAndGlyphs">30.57</text>
<text x="188.00" y="413" font-size="22.8" text-anchor="middle" textLength="23.3" lengthAdjust="spacingAndGlyphs">11</text>
<text x="277.00" y="413" font-size="22.8" text-anchor="middle" textLength="23.3" lengthAdjust="spacingAndGlyphs">20</text>
<text x="366.00" y="413" font-size="22.8" text-anchor="middle" textLength="12.6" lengthAdjust="spacingAndGlyphs">6</text>
<text x="456.00" y="413" font-size="22.8" text-anchor="middle" textLength="23.3" lengthAdjust="spacingAndGlyphs">16</text>
<text x="545.00" y="413" font-size="22.8" text-anchor="middle" textLength="12.6" lengthAdjust="spacingAndGlyphs">2</text>
<text x="635.00" y="413" font-size="22.8" text-anchor="middle" textLength="23.3" lengthAdjust="spacingAndGlyphs">12</text>
<text x="724.00" y="413" font-size="22.8" text-anchor="middle" textLength="23.3" lengthAdjust="spacingAndGlyphs">22</text>
<text x="813.00" y="413" font-size="22.8" text-anchor="middle" textLength="12.6" lengthAdjust="spacingAndGlyphs">8</text>
<text x="903.00" y="413" font-size="22.8" text-anchor="middle" textLength="23.3" lengthAdjust="spacingAndGlyphs">18</text>
<text x="992.00" y="413" font-size="22.8" text-anchor="middle" textLength="12.6" lengthAdjust="spacingAndGlyphs">4</text>
<text x="1082.00" y="413" font-size="22.8" text-anchor="middle" textLength="23.3" lengthAdjust="spacingAndGlyphs">14</text>
<text x="1171.00" y="413" font-size="22.8" text-anchor="middle" textLength="12.6" lengthAdjust="spacingAndGlyphs">0</text>
<text x="1261.00" y="413" font-size="22.8" text-anchor="middle" textLength="23.3" lengthAdjust="spacingAndGlyphs">10</text>
<text x="1350.00" y="413" font-size="22.8" text-anchor="middle" textLength="23.3" lengthAdjust="spacingAndGlyphs">20</text>
<text x="606.2" y="441" font-size="22.8" textLength="194" lengthAdjust="spacingAndGlyphs">03/26/26-03/31/26</text>
<text x="814.2" y="441" font-size="22.8" textLength="118" lengthAdjust="spacingAndGlyphs">Hours(UTC)</text>
<text transform="translate(88.7 220) rotate(-90)" font-size="22.8" text-anchor="middle" textLength="31" lengthAdjust="spacingAndGlyphs">mb</text>
<text transform="translate(1448 219.6) rotate(-90)" font-size="22.8" text-anchor="middle" textLength="184.5" lengthAdjust="spacingAndGlyphs">Inches of Mercury</text>
<text x="188.5" y="86.7" font-size="19.3" class="d" textLength="52" lengthAdjust="spacingAndGlyphs">03/26</text>
<text x="312.00" y="86.7" font-size="19.3" class="d" textLength="52" lengthAdjust="spacingAndGlyphs">03/27</text>
<text x="527.00" y="86.7" font-size="19.3" class="d" textLength="52" lengthAdjust="spacingAndGlyphs">03/28</text>
<text x="741.00" y="86.7" font-size="19.3" class="d" textLength="52" lengthAdjust="spacingAndGlyphs">03/29</text>
<text x="956.00" y="86.7" font-size="19.3" class="d" textLength="52" lengthAdjust="spacingAndGlyphs">03/30</text>
<text x="1171.00" y="86.7" font-size="19.3" class="d" textLength="52" lengthAdjust="spacingAndGlyphs">03/31</text>
<rect x="188.1" y="10.9" width="424.9" height="35.8" rx="4" ry="4" fill="#fff" fill-opacity="0.8" stroke="#cccccc" stroke-width="1.8"/>
<path d="M194.7 28.2H240.1" stroke="#0000ff" stroke-width="3.5"/>
<text x="254" y="35.2" font-size="22.8" textLength="178" lengthAdjust="spacingAndGlyphs">2m MSL Pressure</text>
<rect x="479.5" y="20.8" width="43" height="14.2" fill="#e6e6e6" stroke="#d8d8d8" stroke-width="1.6"/>
<text x="539.8" y="35.2" font-size="22.8" textLength="65.5" lengthAdjust="spacingAndGlyphs">NIGHT</text>
</svg></body></html>
